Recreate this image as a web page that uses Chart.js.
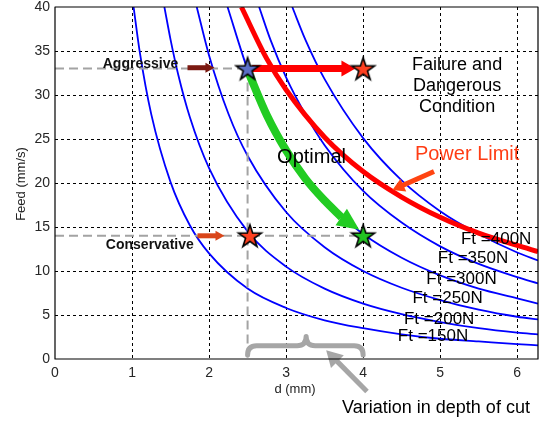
<!DOCTYPE html>
<html>
<head>
<meta charset="utf-8">
<script src="https://cdn.jsdelivr.net/npm/chart.js@4.4.1/dist/chart.umd.min.js"></script>
<style>
html, body { margin: 0; padding: 0; background: #fff; }
</style>
</head>
<body>
<canvas id="chart" width="543" height="421"></canvas>
<script>
// cutting force curves, feed (mm/s) vs depth of cut d (mm)
const dFt150 = [1.02, 1.1, 1.25, 1.5, 1.75, 2, 2.5, 3, 3.5, 4, 4.5, 5, 5.5, 6, 6.27];
const fFt150 = [40, 34.9, 27.8, 20.1, 15.2, 12.0, 8.0, 5.8, 4.4, 3.5, 2.8, 2.3, 2.0, 1.7, 1.55];
const dFt200 = [1.42, 1.5, 1.6, 1.75, 2, 2.5, 3, 3.5, 4, 4.5, 5, 5.5, 6, 6.27];
const fFt200 = [40, 36.3, 32.3, 27.5, 21.7, 14.5, 10.5, 8.0, 6.3, 5.1, 4.2, 3.5, 3.0, 2.8];
const dFt250 = [1.84, 2, 2.25, 2.5, 3, 3.5, 4, 4.5, 5, 5.5, 6, 6.27];
const fFt250 = [40, 34.5, 27.9, 23.1, 16.7, 12.7, 10.0, 8.1, 6.7, 5.6, 4.8, 4.5];
const dFt300 = [2.24, 2.5, 2.75, 3, 3.5, 4, 4.5, 5, 5.5, 6, 6.27];
const fFt300 = [40, 32.9, 27.7, 23.7, 18.0, 14.2, 11.5, 9.5, 8.0, 6.9, 6.3];
const dFt350 = [2.65, 2.8, 3, 3.25, 3.5, 4, 4.5, 5, 5.5, 6, 6.27];
const fFt350 = [40, 36.2, 32.0, 27.8, 24.3, 19.1, 15.5, 12.8, 10.8, 9.3, 8.6];
const dFt400 = [3.08, 3.25, 3.5, 4, 4.5, 5, 5.5, 6, 6.27];
const fFt400 = [40, 36.3, 31.8, 25.1, 20.3, 16.8, 14.2, 12.1, 11.2];

// power limit
const dPower = [2.42, 2.75, 3, 3.5, 4, 4.5, 5, 5.5, 6, 6.27];
const fPower = [40, 34.1, 30.6, 25.2, 21.3, 18.4, 16.1, 14.3, 12.9, 12.2];

// optimal path (along Ft=300N)
const dOptimal = [2.52, 2.75, 3, 3.25, 3.5, 3.72];
const fOptimal = [32.4, 27.7, 23.7, 20.5, 18.0, 16.1];

// operating points
const starD = [2.5, 4, 2.53, 4];
const starF = [33, 33, 14, 14];
const starColors = ['#5b6fc6', '#ff4020', '#ff4020', '#22c322'];

const feedAggressive = 33;
const feedConservative = 14;
const dLow = 2.5;
const dHigh = 4;

const forceLabels = ['Ft =150N', 'Ft =200N', 'Ft =250N', 'Ft =300N', 'Ft =350N', 'Ft =400N'];
const xTicks = [0, 1, 2, 3, 4, 5, 6];
const yTicks = [0, 5, 10, 15, 20, 25, 30, 35, 40];

Chart.defaults.font.family = "'Liberation Sans', Arial, sans-serif";

function pts(xs, ys) {
    return xs.map((x, i) => ({ x: x, y: ys[i] }));
}

function starImg(fill) {
    const c = document.createElement('canvas');
    c.width = 28; c.height = 28;
    const g = c.getContext('2d');
    g.beginPath();
    for (let k = 0; k < 10; k++) {
        const r = k % 2 ? 4.6 : 12;
        const a = -Math.PI / 2 + k * Math.PI / 5;
        const x = 14 + r * Math.cos(a), y = 15 + r * Math.sin(a);
        if (k) g.lineTo(x, y); else g.moveTo(x, y);
    }
    g.closePath();
    g.fillStyle = fill;
    g.fill();
    g.lineWidth = 1.6;
    g.strokeStyle = '#000';
    g.stroke();
    return c;
}

function blue(xs, ys) {
    return {
        data: pts(xs, ys), borderColor: '#0000ff', borderWidth: 1.8,
        pointRadius: 0, cubicInterpolationMode: 'monotone', order: 10
    };
}

function dashed(xs, ys) {
    return {
        data: pts(xs, ys), borderColor: '#a3a3a3', borderWidth: 2,
        borderDash: [9, 5], pointRadius: 0, order: 9
    };
}

function arrow(ctx, x0, y0, x1, y1, w, headLen, headW, color) {
    const a = Math.atan2(y1 - y0, x1 - x0);
    const bx = x1 - headLen * Math.cos(a), by = y1 - headLen * Math.sin(a);
    ctx.strokeStyle = color;
    ctx.fillStyle = color;
    if (w > 0) {
        ctx.lineWidth = w;
        ctx.lineCap = 'butt';
        ctx.beginPath();
        ctx.moveTo(x0, y0);
        ctx.lineTo(bx + Math.cos(a), by + Math.sin(a));
        ctx.stroke();
    }
    ctx.beginPath();
    ctx.moveTo(x1, y1);
    ctx.lineTo(bx + headW / 2 * Math.sin(a), by - headW / 2 * Math.cos(a));
    ctx.lineTo(bx - headW / 2 * Math.sin(a), by + headW / 2 * Math.cos(a));
    ctx.closePath();
    ctx.fill();
}

const labelPos = [[4.45, 2.55], [4.53, 4.55], [4.64, 6.85], [4.82, 9.1], [4.97, 11.45], [5.27, 13.6]];

const annotations = {
    id: 'annotations',
    beforeDatasetsDraw(chart) {
        // dotted grid, matlab style
        const ctx = chart.ctx;
        const xs = chart.scales.x, ys = chart.scales.y;
        const a = chart.chartArea;
        ctx.save();
        ctx.strokeStyle = '#000';
        ctx.lineWidth = 1;
        ctx.setLineDash([3, 3]);
        xTicks.slice(1).forEach(v => {
            const x = Math.round(xs.getPixelForValue(v)) + 0.5;
            ctx.beginPath(); ctx.moveTo(x, a.top); ctx.lineTo(x, a.bottom); ctx.stroke();
        });
        yTicks.slice(1, -1).forEach(v => {
            const y = Math.round(ys.getPixelForValue(v)) + 0.5;
            ctx.beginPath(); ctx.moveTo(a.left, y); ctx.lineTo(a.right, y); ctx.stroke();
        });
        ctx.restore();
    },
    afterDatasetDraw(chart, args) {
        if (args.index !== 8) return;  // right after the green path, before the stars
        const ctx = chart.ctx;
        const xs = chart.scales.x, ys = chart.scales.y;
        const X = v => xs.getPixelForValue(v), Y = v => ys.getPixelForValue(v);
        ctx.save();
        // red horizontal arrow
        arrow(ctx, X(2.56), Y(feedAggressive), X(3.9), Y(feedAggressive), 7, 14, 16, '#ff0000');
        // green head
        arrow(ctx, X(3.72), Y(16.1), X(3.95), Y(14.7), 0, 22, 20, '#22cc22');
        ctx.restore();
    },
    afterDraw(chart) {
        const ctx = chart.ctx;
        const xs = chart.scales.x, ys = chart.scales.y;
        const X = v => xs.getPixelForValue(v), Y = v => ys.getPixelForValue(v);
        const area = chart.chartArea;
        ctx.save();

        // small arrows
        arrow(ctx, X(1.72), Y(33.1), X(2.07), Y(33.1), 5, 9, 10, '#7b1a12');
        arrow(ctx, X(1.85), Y(feedConservative), X(2.2), Y(feedConservative), 5, 9, 10, '#d9461a');
        arrow(ctx, X(4.92), Y(21.3), X(4.38), Y(19.2), 5, 12, 14, '#ff4411');

        // brace under the depth range
        const x0 = X(dLow), x1 = X(dHigh), xm = X(3.26);
        const base = Y(0.45), bar = Y(1.5), tip = Y(2.55), r = 9;
        ctx.strokeStyle = '#a6a6a6';
        ctx.lineWidth = 5;
        ctx.lineCap = 'round';
        ctx.lineJoin = 'round';
        ctx.beginPath();
        ctx.moveTo(x0, base);
        ctx.quadraticCurveTo(x0, bar, x0 + r, bar);
        ctx.lineTo(xm - r, bar);
        ctx.quadraticCurveTo(xm, bar, xm, tip);
        ctx.quadraticCurveTo(xm, bar, xm + r, bar);
        ctx.lineTo(x1 - r, bar);
        ctx.quadraticCurveTo(x1, bar, x1, base);
        ctx.stroke();
        arrow(ctx, X(4.05), Y(-3.7), X(3.52), Y(1.0), 5, 16, 18, '#a6a6a6');

        // frame
        ctx.strokeStyle = '#000';
        ctx.lineWidth = 1.2;
        ctx.strokeRect(area.left, area.top, area.right - area.left, area.bottom - area.top);

        // texts
        ctx.fillStyle = '#111';
        ctx.textBaseline = 'middle';
        ctx.textAlign = 'left';
        ctx.font = "bold 14px 'Liberation Sans', Arial, sans-serif";
        ctx.fillText('Aggressive', X(0.62), Y(33.55));
        ctx.fillText('Conservative', X(0.66), Y(12.95));

        ctx.font = "17px 'Liberation Sans', Arial, sans-serif";
        ctx.fillStyle = '#000';
        forceLabels.forEach((t, i) => ctx.fillText(t, X(labelPos[i][0]), Y(labelPos[i][1])));

        ctx.textAlign = 'center';
        ctx.font = "18px 'Liberation Sans', Arial, sans-serif";
        ctx.fillText('Failure and', X(5.22), Y(33.4));
        ctx.fillText('Dangerous', X(5.22), Y(31.0));
        ctx.fillText('Condition', X(5.22), Y(28.6));
        ctx.font = "20px 'Liberation Sans', Arial, sans-serif";
        ctx.fillText('Optimal', X(3.33), Y(22.85));
        ctx.fillStyle = '#ff3c14';
        ctx.fillText('Power Limit', X(5.35), Y(23.2));

        ctx.fillStyle = '#000';
        ctx.font = "18px 'Liberation Sans', Arial, sans-serif";
        ctx.fillText('Variation in depth of cut', 436, 408);

        // axis titles
        ctx.fillStyle = '#222';
        ctx.font = "13px 'Liberation Sans', Arial, sans-serif";
        ctx.fillText('d (mm)', 295, 389);
        ctx.translate(21, 184);
        ctx.rotate(-Math.PI / 2);
        ctx.fillText('Feed (mm/s)', 0, 0);
        ctx.restore();
    }
};

new Chart(document.getElementById('chart'), {
    type: 'line',
    data: {
        datasets: [
            blue(dFt150, fFt150),
            blue(dFt200, fFt200),
            blue(dFt250, fFt250),
            blue(dFt300, fFt300),
            blue(dFt350, fFt350),
            blue(dFt400, fFt400),
            // 6: power limit
            {
                data: pts(dPower, fPower), borderColor: '#ff0000', borderWidth: 5,
                pointRadius: 0, cubicInterpolationMode: 'monotone', order: 8
            },
            // 7: reference line
            dashed([0, dLow], [feedAggressive, feedAggressive]),
            // 8: optimal path
            {
                data: pts(dOptimal, fOptimal), borderColor: '#22cc22', borderWidth: 8,
                borderCapStyle: 'butt', pointRadius: 0, cubicInterpolationMode: 'monotone', order: 5
            },
            dashed([dLow, dLow], [feedAggressive, 0]),
            dashed([0, dHigh], [feedConservative, feedConservative]),
            // stars
            {
                type: 'scatter',
                data: pts(starD, starF),
                pointStyle: starD.map((d, i) => starImg(starColors[i])),
                pointRadius: 12, order: 1
            }
        ]
    },
    options: {
        responsive: false,
        animation: false,
        devicePixelRatio: 1,
        layout: { autoPadding: false, padding: { left: 0, right: 5, top: 7, bottom: 0 } },
        plugins: { legend: { display: false }, tooltip: { enabled: false } },
        scales: {
            x: {
                type: 'linear', min: 0, max: 6.27,
                afterFit: s => { s.height = 62; s.paddingLeft = 0; s.paddingRight = 0; },
                afterBuildTicks: s => { s.ticks = xTicks.map(v => ({ value: v })); },
                ticks: { color: '#262626', font: { size: 14 }, padding: 6, includeBounds: false },
                grid: { display: false, drawTicks: false },
                border: { display: false }
            },
            y: {
                type: 'linear', min: 0, max: 40,
                afterFit: s => { s.width = 55; s.paddingTop = 0; s.paddingBottom = 0; },
                afterBuildTicks: s => { s.ticks = yTicks.map(v => ({ value: v })); },
                ticks: { color: '#262626', font: { size: 14 }, padding: 5 },
                grid: { display: false, drawTicks: false },
                border: { display: false }
            }
        }
    },
    plugins: [annotations]
});
</script>
</body>
</html>
